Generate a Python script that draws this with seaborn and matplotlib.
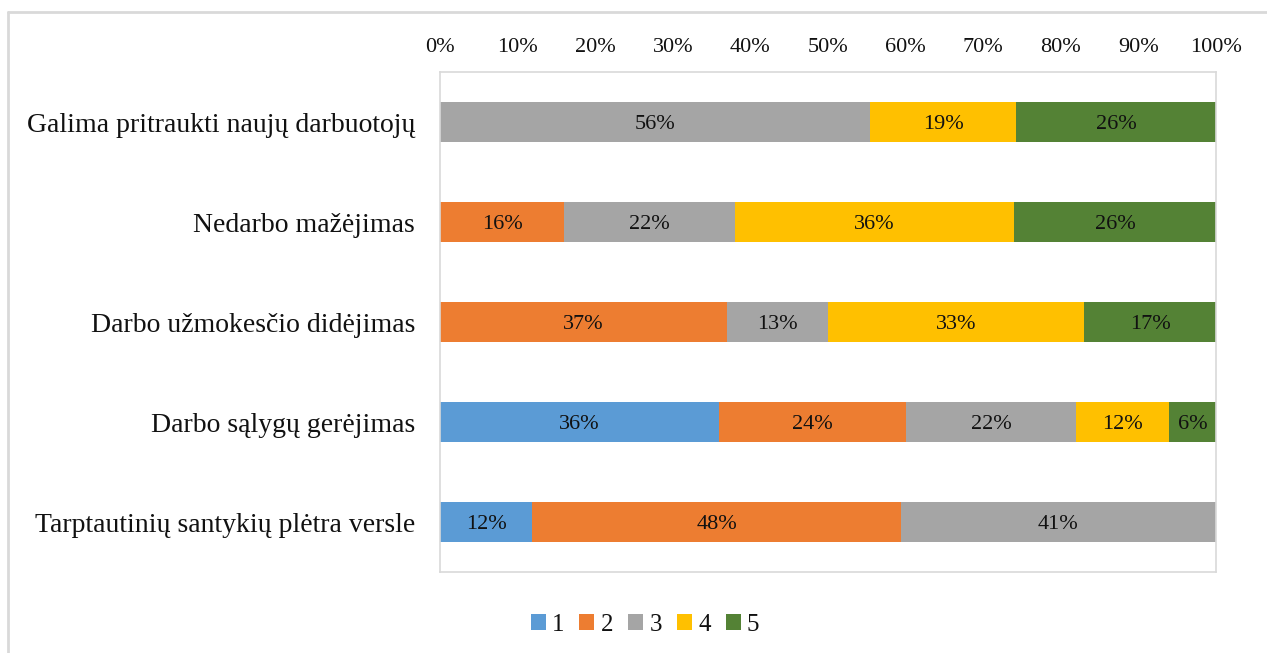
import numpy as np
import pandas as pd
import matplotlib
matplotlib.use("Agg")
import matplotlib.pyplot as plt
from matplotlib.patches import Patch
from matplotlib.lines import Line2D
import seaborn as sns

# Survey answers: share of respondents per rating (1..5), in percent
categories = [
    "Galima pritraukti naujų darbuotojų",
    "Nedarbo mažėjimas",
    "Darbo užmokesčio didėjimas",
    "Darbo sąlygų gerėjimas",
    "Tarptautinių santykių plėtra versle",
]
series_names = ["1", "2", "3", "4", "5"]
r1 = [0, 0, 0, 36, 12]
r2 = [0, 16, 37, 24, 48]
r3 = [56, 22, 13, 22, 41]
r4 = [19, 36, 33, 12, 0]
r5 = [26, 26, 17, 6, 0]
tick_labels = ["0%", "10%", "20%", "30%", "40%", "50%", "60%", "70%", "80%", "90%", "100%"]

colors = ["#5B9BD5", "#ED7D31", "#A5A5A5", "#FFC000", "#548235"]

sns.set_theme(style="white")
plt.rcParams["font.family"] = ["Liberation Serif", "DejaVu Serif"]

values = np.array([r1, r2, r3, r4, r5], dtype=float)  # shape (series, category)
shares = values / values.sum(axis=0)                   # 100 % stacked
cum = np.cumsum(shares, axis=0)

fig = plt.figure(figsize=(12.67, 6.53), dpi=100)
ax = fig.add_axes([440 / 1267, 1 - 572 / 653, 776 / 1267, 500 / 653])

# draw cumulative totals from the outermost segment inward so each stacks visually
for i in range(len(series_names) - 1, -1, -1):
    df = pd.DataFrame({"cat": categories, "val": cum[i]})
    sns.barplot(data=df, x="val", y="cat", order=categories, orient="h",
                color=colors[i], saturation=1, width=0.4, linewidth=0,
                ax=ax)

# value labels in the middle of each segment
for i in range(len(series_names)):
    for j in range(len(categories)):
        if values[i, j] > 0:
            start = cum[i, j] - shares[i, j]
            ax.text(start + shares[i, j] / 2, j, f"{int(values[i, j])}%",
                    ha="center", va="center_baseline", fontsize=16, color="#111111")

ax.set_xlim(0, 1)
ax.set_ylim(len(categories) - 0.5, -0.5)
ax.set_xticks(np.linspace(0, 1, len(tick_labels)))
ax.set_xticklabels(tick_labels, fontsize=16, color="#111111")
ax.xaxis.tick_top()
ax.tick_params(axis="x", length=0, pad=11)
ax.tick_params(axis="y", length=0, pad=18, labelsize=20, labelcolor="#111111")
ax.set_xlabel("")
ax.set_ylabel("")
for s in ax.spines.values():
    s.set_visible(True)
    s.set_color("#D9D9D9")
    s.set_linewidth(1.2)

handles = [Patch(facecolor=c, edgecolor="none") for c in colors]
fig.legend(handles, series_names, loc="center", ncol=5, frameon=False,
           bbox_to_anchor=(645 / 1267, 1 - 625 / 653), fontsize=18,
           handlelength=0.6, handleheight=0.6, handletextpad=0.25,
           columnspacing=0.6, labelcolor="#111111")

# outer chart border (top and left edges)
fig.add_artist(Line2D([8 / 1267, 1], [1 - 12 / 653] * 2, color="#D9D9D9", lw=2,
                      transform=fig.transFigure))
fig.add_artist(Line2D([8 / 1267] * 2, [0, 1 - 12 / 653], color="#D9D9D9", lw=2,
                      transform=fig.transFigure))

fig.savefig("out.png", dpi=100, facecolor="white")
